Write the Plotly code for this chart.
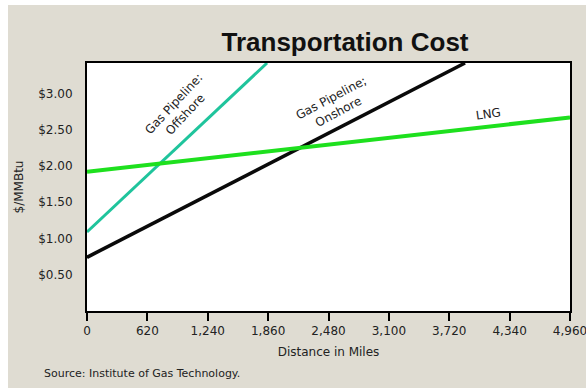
import plotly.graph_objects as go

# ---- data ----
distance_offshore = [0, 1849]
cost_offshore = [1.09, 3.42]
distance_onshore = [0, 3882]
cost_onshore = [0.74, 3.42]
distance_lng = [0, 4960]
cost_lng = [1.92, 2.67]

x_ticks = [0, 620, 1240, 1860, 2480, 3100, 3720, 4340, 4960]
x_tick_labels = ["0", "620", "1,240", "1,860", "2,480", "3,100", "3,720", "4,340", "4,960"]
y_ticks = [0.5, 1.0, 1.5, 2.0, 2.5, 3.0]
y_tick_labels = ["$0.50", "$1.00", "$1.50", "$2.00", "$2.50", "$3.00"]

BEIGE = "#dfdcd2"
SMALL = "DejaVu Sans"

fig = go.Figure()
fig.add_trace(go.Scatter(x=distance_offshore, y=cost_offshore, mode="lines",
                         line=dict(color="#1fc49c", width=3), name="Gas Pipeline: Offshore"))
fig.add_trace(go.Scatter(x=distance_onshore, y=cost_onshore, mode="lines",
                         line=dict(color="#0a0a0a", width=3.5), name="Gas Pipeline; Onshore"))
fig.add_trace(go.Scatter(x=distance_lng, y=cost_lng, mode="lines",
                         line=dict(color="#1ee01e", width=4), name="LNG"))

fig.update_layout(
    width=586, height=388,
    margin=dict(l=87, r=16, t=63, b=77),
    paper_bgcolor=BEIGE, plot_bgcolor="white",
    showlegend=False,
    title=dict(text="<b>Transportation Cost</b>", x=345/586, xref="container", xanchor="center",
               y=1-42/388, yref="container", yanchor="middle",
               font=dict(family="Liberation Sans", size=26, color="#111")),
    xaxis=dict(range=[0, 4960], tickvals=x_ticks, ticktext=x_tick_labels,
               ticklabeloverflow="allow", automargin=False,
               showgrid=False, zeroline=False, showline=True, linecolor="black", linewidth=2,
               mirror=True, ticks="outside", ticklen=8, tickwidth=2, tickcolor="black",
               tickfont=dict(family=SMALL, size=12, color="#222"),
               title=dict(text="Distance in Miles", standoff=10,
                          font=dict(family=SMALL, size=12, color="#222"))),
    yaxis=dict(range=[0, 3.42], tickvals=y_ticks, ticktext=y_tick_labels, automargin=False,
               showgrid=False, zeroline=False, showline=True, linecolor="black", linewidth=2,
               mirror=True, ticks="", ticklabelstandoff=10,
               tickfont=dict(family=SMALL, size=12, color="#222"),
               title=dict(text="$/MMBtu", standoff=12,
                          font=dict(family=SMALL, size=12, color="#222"))),
    shapes=[
        dict(type="rect", xref="paper", yref="paper",
             x0=-87/483, x1=-79/483, y0=-0.4, y1=1.3,
             fillcolor="white", line=dict(width=0), layer="above"),
        dict(type="rect", xref="paper", yref="paper",
             x0=-0.2, x1=1.1, y0=(310.5-5)/247.5, y1=1.4,
             fillcolor="white", line=dict(width=0), layer="above"),
    ],
    annotations=[
        dict(text="Gas Pipeline:<br>Offshore", x=955, y=2.78, xref="x", yref="y",
             showarrow=False, textangle=-47, font=dict(family=SMALL, size=12, color="#222")),
        dict(text="Gas Pipeline;<br>Onshore", x=2547, y=2.84, xref="x", yref="y",
             showarrow=False, textangle=-28, font=dict(family=SMALL, size=12, color="#222")),
        dict(text="LNG", x=4118, y=2.71, xref="x", yref="y",
             showarrow=False, textangle=-8, font=dict(family=SMALL, size=12, color="#222")),
        dict(text="Source: Institute of Gas Technology.", xref="paper", yref="paper",
             x=(42-87)/483, y=(310.5-373)/247.5, xanchor="left", yanchor="middle",
             showarrow=False, font=dict(family=SMALL, size=11, color="#222")),
    ],
)

fig.write_html("out.html")
